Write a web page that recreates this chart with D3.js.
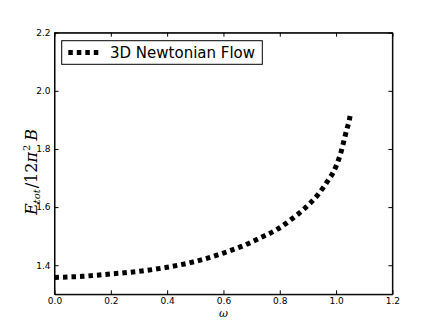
<!DOCTYPE html>
<html>
<head>
<meta charset="utf-8">
<script src="https://cdn.jsdelivr.net/npm/d3@7"></script>
<style>
  body { margin: 0; background: #fff; }
  svg { display: block; }
  .tick text { font-family: "DejaVu Sans", sans-serif; font-size: 9px; fill: #000; }
</style>
</head>
<body>
<div id="chart"></div>
<script>
// values
var omega = [0, 0.1, 0.2, 0.3, 0.4, 0.5, 0.6, 0.67, 0.73, 0.79, 0.84, 0.89, 0.935, 0.973, 0.99, 1.014, 1.038, 1.047, 1.052];
var energy = [1.358, 1.362, 1.370, 1.379, 1.393, 1.413, 1.442, 1.467, 1.494, 1.523, 1.557, 1.597, 1.642, 1.694, 1.720, 1.778, 1.867, 1.899, 1.927];
var xTicks = [0, 0.2, 0.4, 0.6, 0.8, 1.0, 1.2];
var yTicks = [1.4, 1.6, 1.8, 2.0, 2.2];
var seriesName = "3D Newtonian Flow";

function init() {
    var w = 436, h = 327;
    var left = 54.5, right = 392.4, top = 32.7, bottom = 294.3;

    var svg = d3.select("#chart").append("svg")
        .attr("width", w)
        .attr("height", h);

    var xScale = d3.scaleLinear().domain([0, 1.2]).range([left, right]);
    var yScale = d3.scaleLinear().domain([1.3, 2.2]).range([bottom, top]);

    // axes, ticks pointing inwards on all four sides
    svg.append("g")
        .attr("transform", "translate(0," + bottom + ")")
        .call(d3.axisBottom(xScale).tickValues(xTicks).tickFormat(d3.format(".1f"))
            .tickSizeInner(-4).tickSizeOuter(0).tickPadding(3));
    svg.append("g")
        .attr("transform", "translate(0," + top + ")")
        .call(d3.axisTop(xScale).tickValues(xTicks).tickFormat("")
            .tickSizeInner(-4).tickSizeOuter(0));
    svg.append("g")
        .attr("transform", "translate(" + left + ",0)")
        .call(d3.axisLeft(yScale).tickValues(yTicks).tickFormat(d3.format(".1f"))
            .tickSizeInner(-4).tickSizeOuter(0).tickPadding(4));
    svg.append("g")
        .attr("transform", "translate(" + right + ",0)")
        .call(d3.axisRight(yScale).tickValues(yTicks).tickFormat("")
            .tickSizeInner(-4).tickSizeOuter(0));

    svg.selectAll(".domain").attr("stroke", "#000");
    svg.selectAll(".tick line").attr("stroke", "#000");

    // frame
    svg.append("rect")
        .attr("x", left).attr("y", top)
        .attr("width", right - left).attr("height", bottom - top)
        .attr("fill", "none").attr("stroke", "#000").attr("stroke-width", 1);

    var pts = omega.map(function (d, i) { return [d, energy[i]]; });
    var line = d3.line()
        .x(function (d) { return xScale(d[0]); })
        .y(function (d) { return yScale(d[1]); })
        .curve(d3.curveMonotoneX);

    svg.append("path")
        .datum(pts)
        .attr("d", line)
        .attr("fill", "none")
        .attr("stroke", "#000")
        .attr("stroke-width", 5)
        .attr("stroke-dasharray", "4.5,4");

    // legend
    var lg = svg.append("g");
    lg.append("rect")
        .attr("x", 61.7).attr("y", 40.7)
        .attr("width", 200.6).attr("height", 23.6)
        .attr("fill", "#fff").attr("stroke", "#000").attr("stroke-width", 1);
    lg.append("line")
        .attr("x1", 68.3).attr("x2", 100.5)
        .attr("y1", 52.5).attr("y2", 52.5)
        .attr("stroke", "#000").attr("stroke-width", 5)
        .attr("stroke-dasharray", "4.5,4");
    lg.append("text")
        .attr("x", 110).attr("y", 57.6)
        .style("font-family", "DejaVu Sans, sans-serif")
        .style("font-size", "15px")
        .text(seriesName);

    // x label
    svg.append("text")
        .attr("x", (left + right) / 2).attr("y", 317)
        .attr("text-anchor", "middle")
        .style("font-family", "DejaVu Serif, serif")
        .style("font-style", "italic")
        .style("font-size", "11px")
        .text("ω");

    // y label
    var yl = svg.append("text")
        .attr("transform", "translate(37,172) rotate(-90)")
        .attr("text-anchor", "middle")
        .style("font-family", "DejaVu Serif, serif")
        .style("font-size", "16px");
    yl.append("tspan").style("font-style", "italic").text("E");
    yl.append("tspan").style("font-style", "italic").style("font-size", "10px")
        .attr("dy", 3).text("tot");
    yl.append("tspan").attr("dy", -3).attr("dx", 1).text("/12");
    yl.append("tspan").style("font-style", "italic").text("π");
    yl.append("tspan").style("font-size", "10px").attr("dy", -7).attr("dx", 1).text("2");
    yl.append("tspan").style("font-style", "italic").attr("dy", 7).attr("dx", 4).text("B");
}

window.onload = init;
</script>
</body>
</html>
